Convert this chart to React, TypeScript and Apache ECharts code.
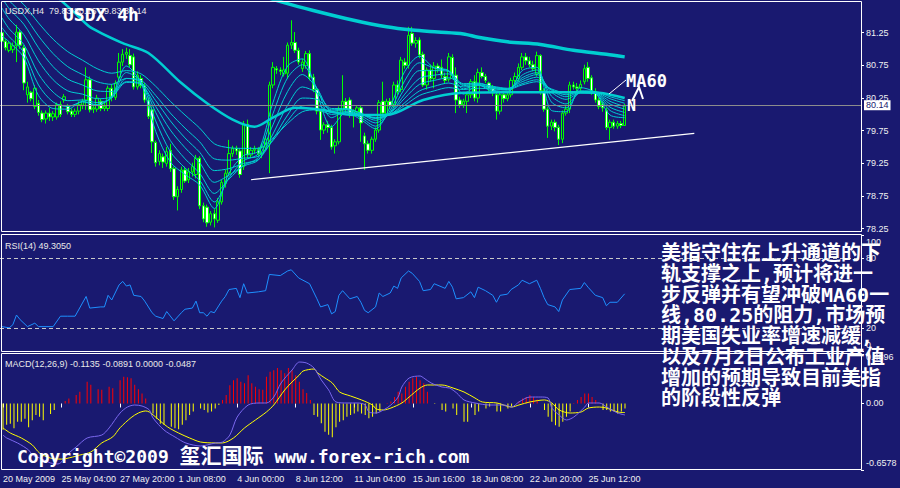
import React, { useEffect, useRef } from "react";
import * as echarts from "echarts";

// USDX H4 bars: [open, high, low, close]
const bars: [number, number, number, number][] = [
  [81.25, 81.3, 81.07, 81.12], [81.12, 81.15, 80.98, 81.02], [80.98, 81.12, 80.95, 81.09], [80.99, 81.1, 80.94, 81.05],
  [81.05, 81.37, 80.8, 81.26], [81.26, 81.3, 81.0, 81.06], [81.02, 81.06, 80.37, 80.48], [80.3, 80.5, 80.18, 80.42],
  [80.34, 80.36, 80.2, 80.24], [80.12, 80.45, 80.08, 80.4], [80.17, 80.22, 79.98, 80.03], [80.02, 80.06, 79.88, 79.92],
  [79.93, 80.06, 79.86, 80.02], [80.02, 80.1, 79.9, 79.96], [79.96, 80.05, 79.9, 80.01], [79.96, 80.18, 79.92, 80.15],
  [80.15, 80.2, 79.96, 80.0], [80.22, 80.31, 80.18, 80.27], [80.12, 80.16, 80.0, 80.04], [80.05, 80.09, 79.96, 80.0],
  [80.0, 80.09, 79.96, 80.05], [80.05, 80.2, 80.0, 80.15], [80.14, 80.24, 80.08, 80.2], [80.22, 80.72, 80.07, 80.53],
  [80.53, 80.58, 80.03, 80.07], [80.08, 80.15, 80.02, 80.1], [80.08, 80.3, 80.04, 80.25], [80.2, 80.24, 80.05, 80.09],
  [80.09, 80.18, 80.05, 80.12], [80.09, 80.44, 80.05, 80.4], [80.4, 80.46, 80.2, 80.26], [80.26, 80.52, 80.22, 80.48],
  [80.57, 80.94, 80.5, 80.8], [80.8, 81.0, 80.74, 80.92], [80.92, 81.02, 80.85, 80.95], [80.9, 81.0, 80.72, 80.76],
  [80.88, 80.93, 80.38, 80.42], [80.42, 80.66, 80.38, 80.6], [80.55, 80.6, 80.4, 80.44], [80.44, 80.48, 80.18, 80.22],
  [80.22, 80.26, 79.93, 79.97], [80.07, 80.12, 79.41, 79.58], [79.57, 79.6, 79.2, 79.26], [79.28, 79.45, 79.22, 79.4],
  [79.35, 79.4, 79.18, 79.27], [79.25, 79.5, 79.2, 79.43], [79.45, 79.55, 79.12, 79.17], [79.17, 79.2, 78.69, 78.74],
  [78.74, 78.9, 78.53, 78.85], [78.85, 79.2, 78.8, 79.15], [79.15, 79.2, 78.95, 78.98], [79.0, 79.18, 78.95, 79.12],
  [79.12, 79.26, 79.05, 79.2], [79.08, 79.38, 79.02, 79.33], [79.33, 79.36, 78.55, 78.6], [78.6, 78.65, 78.35, 78.4],
  [78.58, 78.62, 78.28, 78.34], [78.35, 78.52, 78.3, 78.48], [78.48, 78.55, 78.27, 78.4], [78.38, 78.72, 78.34, 78.66],
  [78.66, 79.0, 78.62, 78.96], [78.94, 79.15, 78.88, 79.1], [79.1, 79.61, 79.05, 79.4], [79.4, 79.52, 79.35, 79.48],
  [79.48, 79.52, 79.38, 79.44], [79.44, 79.48, 79.03, 79.08], [79.2, 79.9, 79.15, 79.85], [79.85, 79.92, 79.33, 79.38],
  [79.38, 79.5, 79.34, 79.45], [79.45, 79.52, 79.4, 79.47], [79.46, 79.5, 79.36, 79.4], [79.4, 79.55, 79.33, 79.5],
  [79.5, 79.67, 79.45, 79.62], [79.55, 80.5, 79.1, 80.45], [80.45, 80.8, 80.4, 80.72], [80.7, 80.74, 80.62, 80.68],
  [80.68, 80.72, 80.6, 80.66], [80.62, 80.88, 80.58, 80.68], [80.63, 81.1, 80.55, 81.06], [81.06, 81.44, 81.0, 81.1],
  [81.1, 81.26, 80.94, 80.98], [80.98, 81.02, 80.76, 80.8], [80.7, 80.85, 80.65, 80.8], [80.75, 80.97, 80.7, 80.93],
  [80.93, 80.98, 80.52, 80.57], [80.57, 80.62, 80.34, 80.38], [80.38, 80.42, 80.0, 80.05], [80.05, 80.08, 79.61, 79.76],
  [79.76, 79.88, 79.7, 79.84], [79.84, 79.9, 79.72, 79.8], [79.8, 79.84, 79.46, 79.5], [79.52, 79.62, 79.4, 79.58],
  [79.58, 80.12, 79.54, 80.07], [80.07, 80.6, 80.02, 80.2], [80.2, 80.25, 80.02, 80.08], [80.22, 80.26, 79.95, 79.99],
  [79.99, 80.08, 79.8, 80.04], [80.04, 80.14, 79.98, 80.1], [80.1, 80.14, 79.58, 79.87], [79.67, 79.72, 79.15, 79.55],
  [79.55, 79.6, 79.4, 79.45], [79.45, 79.66, 79.4, 79.62], [79.62, 79.8, 79.58, 79.76], [79.76, 80.22, 79.72, 80.18],
  [80.2, 80.5, 79.98, 80.02], [80.0, 80.24, 79.96, 80.2], [80.2, 80.25, 80.08, 80.13], [80.15, 80.5, 80.1, 80.45],
  [80.45, 80.52, 80.3, 80.35], [80.38, 80.88, 80.34, 80.83], [80.8, 80.86, 80.7, 80.75], [80.75, 81.34, 80.7, 81.21],
  [81.24, 81.34, 81.05, 81.09], [81.09, 81.18, 81.02, 81.13], [81.14, 81.18, 80.86, 80.91], [80.92, 80.96, 80.42, 80.45],
  [80.45, 80.72, 80.38, 80.68], [80.68, 80.76, 80.5, 80.55], [80.55, 80.8, 80.4, 80.74], [80.74, 80.78, 80.64, 80.7],
  [80.72, 80.84, 80.55, 80.6], [80.58, 80.64, 80.47, 80.52], [80.54, 80.94, 80.5, 80.88], [80.87, 80.92, 80.55, 80.6],
  [80.6, 80.72, 80.02, 80.22], [80.22, 80.27, 80.1, 80.15], [80.15, 80.24, 80.1, 80.2], [80.2, 80.35, 80.02, 80.3],
  [80.3, 80.54, 80.25, 80.5], [80.5, 80.6, 80.2, 80.25], [80.25, 80.7, 80.18, 80.64], [80.64, 80.72, 80.55, 80.58],
  [80.58, 80.62, 80.48, 80.52], [80.48, 80.5, 80.35, 80.4], [80.4, 80.45, 80.28, 80.33], [80.3, 80.34, 79.92, 80.05],
  [80.05, 80.36, 80.0, 80.3], [80.3, 80.34, 80.18, 80.24], [80.24, 80.35, 80.2, 80.3], [80.3, 80.56, 80.26, 80.52],
  [80.52, 80.64, 80.46, 80.58], [80.55, 80.78, 80.5, 80.72], [80.72, 80.94, 80.68, 80.88], [80.88, 80.94, 80.76, 80.82],
  [80.82, 80.88, 80.72, 80.76], [80.76, 80.82, 80.66, 80.7], [80.62, 80.96, 80.58, 80.9], [80.9, 80.92, 80.3, 80.36],
  [80.36, 80.4, 80.04, 80.08], [80.08, 80.12, 79.64, 79.82], [79.82, 79.92, 79.76, 79.88], [79.88, 79.92, 79.74, 79.8],
  [79.8, 79.84, 79.53, 79.62], [79.62, 80.06, 79.56, 80.02], [80.02, 80.14, 79.98, 80.08], [80.08, 80.5, 80.02, 80.45],
  [80.45, 80.5, 80.38, 80.42], [80.42, 80.48, 80.35, 80.4], [80.4, 80.52, 80.36, 80.46], [80.5, 80.76, 80.46, 80.7],
  [80.72, 80.8, 80.5, 80.55], [80.56, 80.6, 80.3, 80.35], [80.35, 80.4, 80.18, 80.22], [80.22, 80.26, 80.08, 80.12],
  [80.16, 80.2, 80.04, 80.1], [80.06, 80.1, 79.76, 79.8], [79.8, 79.92, 79.61, 79.88], [79.88, 79.92, 79.78, 79.82],
  [79.82, 79.9, 79.78, 79.86], [79.86, 79.9, 79.79, 79.83], [79.83, 80.16, 79.83, 80.14],
];

// time axis: bar slots incl. empty space on the right
const slotCount = 235;
const tickBars = [0, 16, 32, 48, 64, 80, 96, 112, 128, 144, 160];
const tickLabels = [
  "20 May 2009", "25 May 04:00", "27 May 20:00", "1 Jun 08:00", "4 Jun 00:00", "8 Jun 12:00",
  "11 Jun 04:00", "15 Jun 16:00", "18 Jun 08:00", "22 Jun 20:00", "25 Jun 12:00",
];

const priceTicks = [81.25, 80.75, 80.25, 79.75, 79.25, 78.75, 78.25];
const rsiTicks = [100, 80, 20, 0];
const macdTicks = [0.4896, 0, -0.6578];

// EMA ribbon, sampled at these bars
const ribbonBars = [0, 2, 6, 10, 14, 18, 22, 26, 30, 34, 38, 42, 46, 50, 54, 58, 62, 66, 70, 74, 78, 82,
  86, 90, 94, 98, 102, 106, 110, 114, 118, 122, 126, 130, 134, 138, 142, 146, 150, 154, 158, 162, 166, 170];
const ema5 = [81.2, 81.11, 80.87, 80.29, 80.09, 80.08, 80.2, 80.14, 80.28, 80.74, 80.48, 79.74, 79.27, 79.08, 78.92,
  78.56, 79.1, 79.37, 79.44, 80.18, 80.74, 80.85, 80.32, 79.81, 80.03, 79.92, 79.78, 80.12, 80.66, 80.89, 80.71, 80.66,
  80.31, 80.45, 80.35, 80.34, 80.67, 80.72, 80.06, 80.04, 80.41, 80.33, 79.99, 79.95];
const ema8 = [81.33, 81.19, 80.95, 80.45, 80.19, 80.12, 80.19, 80.15, 80.26, 80.64, 80.5, 79.9, 79.43, 79.18, 78.99,
  78.66, 79.03, 79.29, 79.4, 80.01, 80.56, 80.76, 80.4, 79.95, 80.04, 79.95, 79.82, 80.06, 80.52, 80.79, 80.71, 80.67,
  80.39, 80.45, 80.37, 80.35, 80.6, 80.68, 80.19, 80.1, 80.35, 80.32, 80.06, 79.98];
const ema12 = [81.48, 81.31, 81.07, 80.62, 80.34, 80.21, 80.22, 80.18, 80.25, 80.55, 80.49, 80.03, 79.6, 79.32, 79.1,
  78.79, 79.01, 79.22, 79.34, 79.84, 80.35, 80.61, 80.4, 80.05, 80.07, 79.98, 79.87, 80.03, 80.4, 80.67, 80.67, 80.66,
  80.44, 80.46, 80.4, 80.37, 80.56, 80.64, 80.28, 80.16, 80.33, 80.32, 80.11, 80.03];
const ema17 = [81.63, 81.46, 81.22, 80.82, 80.53, 80.36, 80.31, 80.24, 80.27, 80.49, 80.46, 80.12, 79.76, 79.49, 79.26,
  78.96, 79.07, 79.21, 79.3, 79.7, 80.14, 80.42, 80.33, 80.09, 80.09, 80.01, 79.91, 80.02, 80.31, 80.55, 80.6, 80.62,
  80.47, 80.48, 80.42, 80.39, 80.53, 80.61, 80.34, 80.23, 80.33, 80.32, 80.16, 80.08];
const ema23 = [81.79, 81.62, 81.38, 81.02, 80.73, 80.54, 80.45, 80.36, 80.35, 80.5, 80.48, 80.21, 79.9, 79.64, 79.42,
  79.14, 79.17, 79.25, 79.31, 79.62, 79.99, 80.25, 80.23, 80.07, 80.08, 80.02, 79.94, 80.02, 80.25, 80.46, 80.52, 80.56,
  80.46, 80.47, 80.43, 80.4, 80.5, 80.57, 80.37, 80.27, 80.34, 80.33, 80.2, 80.12];
const ema30 = [81.9, 81.74, 81.52, 81.2, 80.93, 80.73, 80.61, 80.5, 80.46, 80.55, 80.52, 80.29, 80.02, 79.79, 79.58,
  79.32, 79.3, 79.33, 79.36, 79.6, 79.9, 80.13, 80.14, 80.03, 80.04, 80.0, 79.94, 80.0, 80.18, 80.36, 80.43, 80.48,
  80.42, 80.44, 80.41, 80.39, 80.47, 80.53, 80.38, 80.3, 80.35, 80.34, 80.24, 80.17];
const ema40 = [82.0, 81.87, 81.68, 81.4, 81.15, 80.96, 80.83, 80.7, 80.63, 80.67, 80.62, 80.43, 80.2, 79.99, 79.79,
  79.55, 79.49, 79.48, 79.48, 79.64, 79.86, 80.04, 80.07, 80.0, 80.02, 80.0, 79.95, 80.0, 80.14, 80.29, 80.36, 80.41,
  80.38, 80.4, 80.39, 80.38, 80.45, 80.5, 80.39, 80.33, 80.36, 80.35, 80.27, 80.21];

// [bar, value]
const ma60: [number, number][] = [
  [14, 81.85], [20, 81.55], [24, 81.34], [33, 81.09], [40, 80.94], [49, 80.48], [56, 80.17], [63, 79.92],
  [69, 79.81], [74, 79.95], [80, 80.1], [87, 80.07], [96, 79.99], [105, 79.99], [115, 80.22], [126, 80.33],
  [138, 80.34], [147, 80.34], [156, 80.34], [163, 80.33], [170, 80.25],
];
const longMa: [number, number][] = [
  [66, 81.95], [72, 81.8], [77, 81.71], [85, 81.59], [96, 81.44], [105, 81.34], [112, 81.29], [119, 81.26],
  [126, 81.23], [130, 81.18], [138, 81.11], [147, 81.07], [156, 80.98], [165, 80.92], [170, 80.88],
];
const supportLine: [number, number][] = [[68, 79.0], [189, 79.71]];

const rsi14: [number, number][] = [
  [0, 21], [2, 20], [3, 22.6], [4, 31], [5, 27], [7, 21], [9, 24], [10, 21], [14, 21], [16, 30], [18, 30], [20, 30],
  [23, 47], [24, 37], [27, 38], [28, 38], [29, 48], [30, 44], [32, 57], [33, 60], [34, 56], [35, 57], [36, 48],
  [38, 47], [39, 43], [41, 33], [42, 30], [44, 28], [45, 34], [47, 26], [49, 33], [50, 36], [52, 37], [53, 43],
  [54, 33], [55, 33], [56, 30], [57, 34], [58, 33], [60, 43], [61, 47], [62, 53], [64, 54], [65, 46], [66, 58],
  [67, 50], [70, 51], [72, 52], [73, 66], [76, 65], [78, 69], [79, 70], [81, 63], [84, 58], [86, 45], [87, 38],
  [89, 40], [90, 32], [91, 34], [92, 48], [93, 52], [95, 45], [97, 47], [98, 42], [99, 35], [100, 33], [102, 38],
  [103, 50], [104, 47], [106, 50], [107, 56], [108, 54], [109, 63], [111, 69], [112, 67], [114, 60], [115, 52],
  [117, 53], [118, 58], [121, 54], [122, 60], [123, 55], [124, 45], [126, 46], [128, 51], [129, 46], [130, 55],
  [132, 52], [134, 48], [135, 42], [136, 48], [138, 49], [139, 53], [141, 57], [142, 61], [144, 58], [146, 61],
  [147, 54], [148, 46], [149, 40], [151, 38], [152, 34], [153, 44], [155, 53], [158, 54], [159, 59], [160, 55],
  [162, 48], [164, 46], [165, 39], [166, 42], [168, 42], [170, 49.305],
];

// MACD histogram per bar (null = not drawn)
const macdHist: (number | null)[] = [
  -0.26, -0.21, -0.2, -0.245, -0.18, -0.18, -0.15, -0.235, -0.165, -0.115, -0.13, -0.165, null, -0.105, -0.065, null, null,
  0.025, 0.05, null, 0.085, 0.115, null, 0.215, 0.185, null, 0.14, 0.135, null, 0.165, 0.15, null, 0.23, 0.265, 0.26,
  0.25, 0.185, 0.14, 0.1, 0.05, null,
  -0.1, -0.15, -0.2, -0.21, null, -0.23, -0.245, -0.255, -0.21, -0.165, -0.115, -0.08, null, -0.05, -0.065, -0.09,
  -0.08, -0.05, -0.015,
  0.035, 0.085, 0.18, 0.23, 0.25, 0.215, 0.2, 0.28, 0.2, 0.165, 0.14, 0.135, 0.265, 0.315, 0.33, 0.35, 0.33, 0.3,
  0.35, 0.33, 0.28, 0.215, 0.14, 0.105, 0.035,
  -0.115, -0.13, -0.195, -0.28, -0.31, -0.335, -0.235, -0.18, -0.165, -0.13, -0.115, -0.1, -0.08, -0.1, -0.115,
  -0.145, -0.13, -0.1, -0.08, null,
  0.005, 0.02, 0.065, 0.115, 0.1, 0.165, 0.215, 0.25, 0.265, 0.23, 0.2, 0.115, null, -0.005,
  null, -0.065, -0.08, null, -0.05, -0.115, null, -0.18, -0.18, null, -0.115, -0.08, null, -0.05, -0.03, null,
  -0.08, -0.08, null, -0.05, -0.03, null,
  0.02, 0.05, 0.065, 0.085, 0.065, 0.04, null,
  -0.065, -0.13, -0.18, -0.215, -0.23, -0.18, -0.13, -0.08,
  0.005, 0.035, 0.065, 0.1, 0.1, 0.065, 0.035, 0.005,
  -0.065, -0.065, -0.08, -0.08, -0.1, -0.08, -0.0487,
];
const macdSignal: [number, number][] = [
  [0, -0.242], [2, -0.292], [5, -0.341], [8, -0.41], [10, -0.49], [13, -0.54], [16, -0.55], [19, -0.53], [21, -0.51],
  [24, -0.48], [27, -0.39], [30, -0.33], [32, -0.24], [35, -0.14], [37, -0.094], [39, -0.074], [40, -0.084],
  [42, -0.143], [45, -0.232], [48, -0.292], [51, -0.341], [54, -0.381], [58, -0.39], [60, -0.39], [63, -0.341],
  [66, -0.242], [69, -0.163], [72, -0.084], [74, -0.015], [77, 0.134], [79, 0.213], [81, 0.282], [82, 0.321],
  [85, 0.341], [86, 0.302], [88, 0.252], [90, 0.203], [92, 0.114], [95, 0.074], [98, 0.035], [101, -0.015],
  [102, -0.054], [104, -0.064], [106, -0.045], [109, 0.005], [111, 0.064], [114, 0.153], [116, 0.183], [120, 0.183],
  [123, 0.153], [126, 0.114], [129, 0.054], [131, 0.015], [135, 0.005], [139, -0.035], [141, -0.015], [144, 0.015],
  [148, 0.035], [150, 0.005], [152, -0.064], [155, -0.094], [158, -0.084], [160, -0.045], [163, -0.035],
  [165, -0.045], [168, -0.084], [170, -0.0891],
];
const macdMain: [number, number][] = [
  [0, -0.312], [1, -0.341], [4, -0.391], [7, -0.46], [8, -0.509], [10, -0.539], [13, -0.588], [15, -0.598],
  [18, -0.49], [20, -0.43], [23, -0.341], [27, -0.312], [29, -0.242], [32, -0.094], [34, -0.035], [36, -0.015],
  [38, -0.025], [40, -0.064], [41, -0.143], [44, -0.262], [47, -0.331], [50, -0.391], [54, -0.42], [58, -0.391],
  [60, -0.381], [62, -0.312], [64, -0.134], [67, -0.015], [70, 0.005], [72, 0.005], [74, 0.064], [76, 0.203],
  [79, 0.331], [81, 0.41], [83, 0.4], [85, 0.351], [87, 0.232], [89, 0.134], [91, 0.015], [94, 0.005], [97, 0.005],
  [99, -0.015], [100, -0.084], [102, -0.094], [104, -0.064], [106, -0.015], [108, 0.064], [109, 0.163],
  [111, 0.252], [114, 0.272], [115, 0.252], [117, 0.203], [120, 0.163], [122, 0.153], [124, 0.104], [126, 0.035],
  [129, 0.005], [133, -0.015], [137, -0.015], [139, -0.035], [141, 0.015], [144, 0.064], [147, 0.064],
  [149, 0.054], [150, -0.045], [152, -0.114], [154, -0.163], [156, -0.134], [159, -0.035], [160, 0.005],
  [163, 0.005], [165, -0.035], [168, -0.094], [170, -0.1135],
];

const noteLines = [
  "美指守住在上升通道的下",
  "轨支撑之上,预计将进一",
  "步反弹并有望冲破MA60一",
  "线,80.25的阻力,市场预",
  "期美国失业率增速减缓,",
  "以及7月2日公布工业产值",
  "增加的预期导致目前美指",
  "的阶段性反弹",
];

const BG = "#191970";
const CYAN = "#00CED1";
const LABEL = "#f0f0f0";
const axisFont = '"Liberation Sans", Arial, sans-serif';
const boldFont = '"DejaVu Sans Mono", "Noto Sans CJK SC", monospace';

export default function App() {
  const ref = useRef<HTMLDivElement>(null);

  useEffect(() => {
    const el = ref.current;
    if (!el) return;
    const chart = echarts.init(el, null, { renderer: "svg" });

    const slots = Array.from({ length: slotCount }, (_, i) => String(i));
    const isTick = (i: number) => tickBars.includes(i);
    const last = bars[bars.length - 1];
    const rsiLast = rsi14[rsi14.length - 1][1];
    const histLast = macdHist[macdHist.length - 1] as number;

    const xAxis = [0, 1, 2].map((g) => ({
      type: "category",
      gridIndex: g,
      data: slots,
      boundaryGap: true,
      axisLine: { show: false },
      splitLine: { show: false },
      axisTick:
        g === 2
          ? { show: true, interval: (i: number) => isTick(i), alignWithLabel: true, length: 4, lineStyle: { color: "#ffffff" } }
          : { show: false },
      axisLabel:
        g === 2
          ? {
              show: true,
              interval: (i: number) => isTick(i),
              formatter: (v: string) => tickLabels[tickBars.indexOf(Number(v))] ?? "",
              align: "left",
              color: LABEL,
              fontSize: 9,
              fontFamily: axisFont,
              margin: 4,
            }
          : { show: false },
    }));

    const labelStyle = { color: LABEL, fontSize: 9, fontFamily: axisFont };
    const yBase = (g: number, min: number, max: number, ticks: number[], fmt: (v: number) => string) => ({
      type: "value",
      gridIndex: g,
      position: "right",
      min,
      max,
      scale: true,
      splitLine: { show: false },
      axisLine: { show: false },
      axisTick: { show: true, customValues: ticks, length: 3, lineStyle: { color: "#ffffff" } },
      axisLabel: {
        customValues: ticks,
        formatter: fmt,
        margin: 5,
        ...labelStyle,
        rich: {
          t: { ...labelStyle, padding: [14, 0, 0, 0] },
          m: { ...labelStyle, padding: [6, 0, 0, 0] },
          b: { ...labelStyle, padding: [0, 0, 12, 0] },
          bb: { ...labelStyle, padding: [0, 0, 14, 0] },
        },
      },
    });

    const lineSeries = (name: string, data: [number, number][], color: string, width: number, smooth: number | boolean, gi = 0) => ({
      name,
      type: "line",
      xAxisIndex: gi,
      yAxisIndex: gi,
      data,
      symbol: "none",
      smooth,
      clip: true,
      silent: true,
      lineStyle: { color, width },
      z: 3,
    });

    const ribbon = [ema5, ema8, ema12, ema17, ema23, ema30, ema40].map((vals, k) =>
      lineSeries("ema" + k, ribbonBars.map((b, j) => [b, vals[j]] as [number, number]), CYAN, 1, 0.3)
    );

    const textEl = (text: string, x: number, y: number, size: number, font: string, weight: string | number = "normal", extra: any = {}) => ({
      type: "text",
      z: 100,
      silent: true,
      style: { text, x, y, fill: "#ffffff", fontSize: size, fontFamily: font, fontWeight: weight, verticalAlign: "middle", align: "left", ...extra },
    });
    const frame = (y: number, h: number) => ({
      type: "rect",
      z: 100,
      silent: true,
      shape: { x: 1.5, y, width: 860, height: h },
      style: { fill: "none", stroke: "#ffffff", lineWidth: 1 },
    });

    const option: any = {
      animation: false,
      backgroundColor: BG,
      grid: [
        { left: 0, right: 39, top: 2, height: 230 },
        { left: 0, right: 39, top: 235, height: 116 },
        { left: 0, right: 39, top: 354, height: 116 },
      ],
      xAxis,
      yAxis: [
        yBase(0, 78.2, 81.72, priceTicks, (v) => v.toFixed(2)),
        yBase(1, 0, 100, rsiTicks, (v) => (v === 100 ? "{t|100}" : v === 0 ? "{b|0}" : String(v))),
        yBase(2, -0.6578, 0.4896, macdTicks, (v) => (v === 0 ? "0.00" : v > 0 ? `{m|${v.toFixed(4)}}` : `{bb|${v.toFixed(4)}}`)),
      ],
      series: [
        {
          type: "candlestick",
          xAxisIndex: 0,
          yAxisIndex: 0,
          data: bars.map(([o, h, l, c]) => [o, c, l, h]),
          barWidth: 3,
          silent: true,
          itemStyle: { color: BG, color0: "#ffffff", borderColor: "#00ff00", borderColor0: "#00ff00", borderWidth: 1 },
          markLine: {
            silent: true,
            symbol: "none",
            data: [{ yAxis: last[3] }],
            lineStyle: { color: "#8c8c8c", type: "solid", width: 1 },
            label: {
              position: "end",
              formatter: last[3].toFixed(2),
              color: BG,
              backgroundColor: "#ffffff",
              padding: [1, 2, 0, 2],
              fontSize: 9,
              fontFamily: axisFont,
              distance: 3,
            },
          },
          z: 2,
        },
        ...ribbon,
        lineSeries("ma60", ma60, CYAN, 2.5, 0.3),
        lineSeries("long", longMa, CYAN, 3.5, 0.3),
        lineSeries("support", supportLine, "#ffffff", 1.2, false),
        {
          ...lineSeries("rsi", rsi14, "#1E90FF", 1, false, 1),
          markLine: {
            silent: true,
            symbol: "none",
            label: { show: false },
            lineStyle: { color: "#c8c8c8", type: [4, 3], width: 1 },
            data: [{ yAxis: 80 }, { yAxis: 20 }],
          },
        },
        {
          type: "bar",
          xAxisIndex: 2,
          yAxisIndex: 2,
          data: macdHist,
          barWidth: 1,
          silent: true,
          itemStyle: { color: (p: any) => (p.value >= 0 ? "#ff0000" : "#ffff00") },
          z: 2,
        },
        lineSeries("signal", macdSignal, "#ffff00", 1, 0.3, 2),
        lineSeries("main", macdMain, "#7b68ee", 1, 0.3, 2),
      ],
      graphic: [
        frame(1.5, 230),
        frame(234.5, 117),
        frame(353.5, 116),
        textEl(`USDX,H4  ${last.map((v) => v.toFixed(2)).join(" ")}`, 5, 11, 9, axisFont, "normal", { fill: "#e8e8e8" }),
        textEl("USDX 4h", 63, 14, 18, boldFont, "bold"),
        textEl(`RSI(14) ${rsiLast.toFixed(4)}`, 5, 246, 9, axisFont, "normal", { fill: "#e8e8e8" }),
        textEl(
          `MACD(12,26,9) ${macdMain[macdMain.length - 1][1].toFixed(4)} ${macdSignal[macdSignal.length - 1][1].toFixed(4)} 0.0000 ${histLast.toFixed(4)}`,
          5, 364, 9, axisFont, "normal", { fill: "#e8e8e8" }
        ),
        {
          type: "polyline",
          z: 100,
          silent: true,
          shape: { points: [[626, 80], [609, 94]] },
          style: { stroke: "#ffffff", lineWidth: 1, fill: "none" },
        },
        {
          type: "polyline",
          z: 100,
          silent: true,
          shape: { points: [[632, 101], [639, 87], [643, 99]] },
          style: { stroke: "#ffffff", lineWidth: 2, fill: "none" },
        },
        textEl("MA60", 626, 81, 17, boldFont, "bold"),
        textEl("N", 627, 106, 15, boldFont, "bold"),
        textEl(noteLines.join("\n"), 661, 243, 20, boldFont, "bold", { verticalAlign: "top", lineHeight: 20.7 }),
        {
          type: "text",
          z: 100,
          silent: true,
          style: {
            text: "{a|Copyright©2009 }{c|玺汇国际}{a| www.forex-rich.com}",
            x: 17,
            y: 456,
            verticalAlign: "middle",
            align: "left",
            rich: {
              a: { fill: "#ffffff", fontSize: 18, fontFamily: boldFont, fontWeight: "bold" },
              c: { fill: "#ffffff", fontSize: 21, fontFamily: boldFont, fontWeight: "bold" },
            },
          },
        },
      ],
    };

    chart.setOption(option);
    return () => chart.dispose();
  }, []);

  return <div ref={ref} style={{ position: "fixed", left: 0, top: 0, width: 900, height: 488 }} />;
}
